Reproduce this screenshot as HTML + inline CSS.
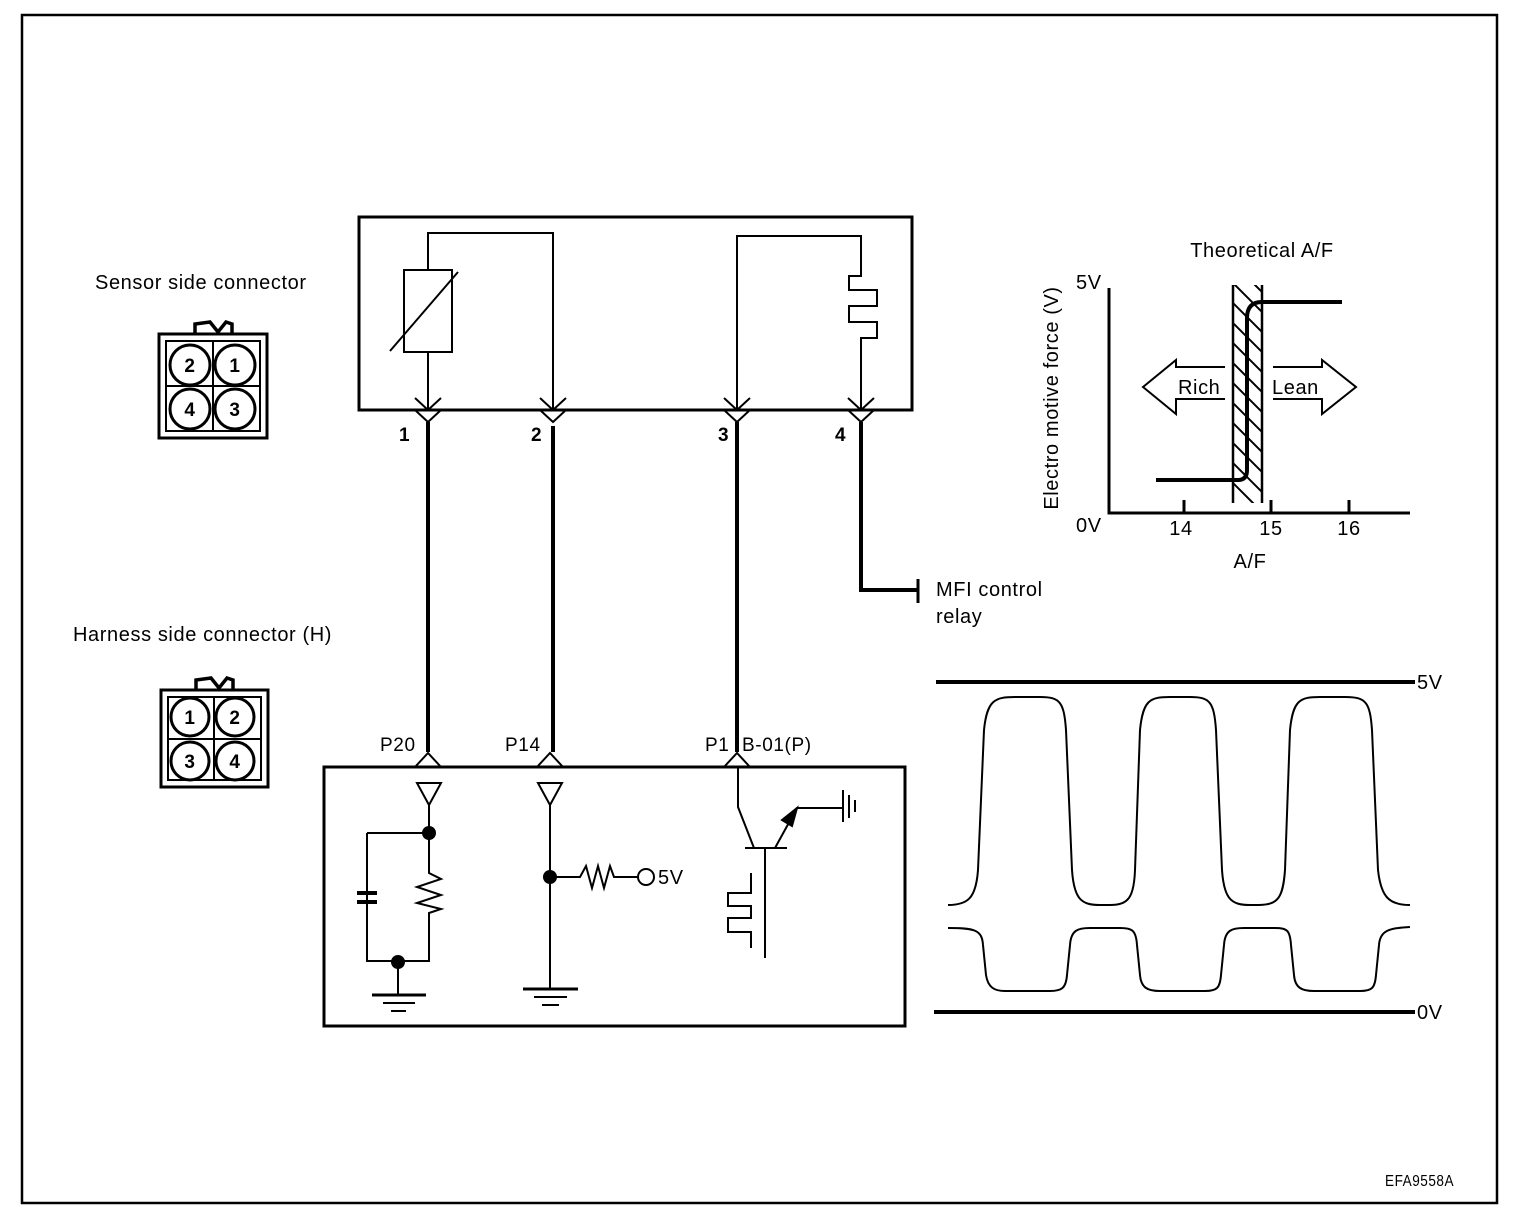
<!DOCTYPE html>
<html><head><meta charset="utf-8"><style>
html,body{margin:0;padding:0;background:#fff}
svg{display:block}
text{font-family:"Liberation Sans",Arial,sans-serif;fill:#000;letter-spacing:0.6px}
</style></head><body>
<svg width="1520" height="1228" viewBox="0 0 1520 1228" xmlns="http://www.w3.org/2000/svg">
<defs>
<clipPath id="hc"><rect x="1234" y="285" width="28" height="218"/></clipPath>
</defs>
<rect x="22" y="15" width="1475" height="1188" fill="none" stroke="#000" stroke-width="2.5"/>

<!-- labels left -->
<text x="95" y="289" font-size="20">Sensor side connector</text>
<text x="73" y="641" font-size="20">Harness side connector (H)</text>

<!-- sensor connector icon -->
<g stroke="#000" fill="none" stroke-width="3">
<path d="M195,334 V324 L210,322 L218,332 L226,322 L232,324 V334" stroke-width="3.5"/>
<rect x="159" y="334" width="108" height="104"/>
<rect x="166" y="341" width="94" height="90" stroke-width="2"/>
<line x1="213" y1="341" x2="213" y2="431" stroke-width="2"/>
<line x1="166" y1="386" x2="260" y2="386" stroke-width="2"/>
<circle cx="190" cy="365" r="20" fill="#fff"/><circle cx="235" cy="365" r="20" fill="#fff"/>
<circle cx="190" cy="409" r="20" fill="#fff"/><circle cx="235" cy="409" r="20" fill="#fff"/>
</g>
<g font-size="19" font-weight="bold" text-anchor="middle">
<text x="190" y="372">2</text><text x="235" y="372">1</text><text x="190" y="416">4</text><text x="235" y="416">3</text>
</g>
<!-- harness connector icon -->
<g stroke="#000" fill="none" stroke-width="3">
<path d="M196,690 V680 L211,678 L219,688 L227,678 L233,680 V690" stroke-width="3.5"/>
<rect x="161" y="690" width="107" height="97"/>
<rect x="168" y="697" width="93" height="83" stroke-width="2"/>
<line x1="214" y1="697" x2="214" y2="780" stroke-width="2"/>
<line x1="168" y1="739" x2="261" y2="739" stroke-width="2"/>
<circle cx="190" cy="717" r="19" fill="#fff"/><circle cx="235" cy="717" r="19" fill="#fff"/>
<circle cx="190" cy="761" r="19" fill="#fff"/><circle cx="235" cy="761" r="19" fill="#fff"/>
</g>
<g font-size="19" font-weight="bold" text-anchor="middle">
<text x="190" y="724">1</text><text x="235" y="724">2</text><text x="190" y="768">3</text><text x="235" y="768">4</text>
</g>

<!-- sensor box -->
<rect x="359" y="217" width="553" height="193" fill="none" stroke="#000" stroke-width="3"/>
<g stroke="#000" fill="none" stroke-width="2">
<path d="M428,410 V352 M428,270 V233 H553 V410"/>
<rect x="404" y="270" width="48" height="82"/>
<line x1="390" y1="351" x2="458" y2="272"/>
<path d="M737,410 V236 H861 V276 H849 V290 H877 V306 H849 V322 H877 V338 H861 V410"/>
<path d="M415,398 L428,410 L441,398 M540,398 L553,410 L566,398 M724,398 L737,410 L750,398 M848,398 L861,410 L874,398"/>
<path d="M415,410 L428,422 L441,410 M540,410 L553,422 L566,410 M724,410 L737,422 L750,410 M848,410 L861,422 L874,410"/>
</g>
<g stroke="#000" stroke-width="4" fill="none">
<path d="M428,422 V752 M553,426 V752 M737,422 V752 M861,422 V590 H918"/>
<line x1="918" y1="579" x2="918" y2="603" stroke-width="3"/>
</g>
<g font-size="19" font-weight="bold">
<text x="399" y="441">1</text><text x="531" y="441">2</text><text x="718" y="441">3</text><text x="835" y="441">4</text>
</g>
<text x="936" y="596" font-size="20">MFI control</text>
<text x="936" y="623" font-size="20">relay</text>

<!-- ECU box -->
<g font-size="19">
<text x="380" y="751">P20</text><text x="505" y="751">P14</text><text x="705" y="751">P1</text><text x="742" y="751">B-01(P)</text>
</g>
<rect x="324" y="767" width="581" height="259" fill="none" stroke="#000" stroke-width="3"/>
<g stroke="#000" fill="none" stroke-width="2">
<path d="M415,767 L428,753 L441,767 M537,767 L550,753 L563,767 M724,767 L737,753 L750,767"/>
<path d="M417,783 L441,783 L429,805 Z M538,783 L562,783 L550,805 Z"/>
<path d="M429,805 V873 L441,879 L417,887 L441,895 L417,903 L441,909 L429,913 V961 H367 V892 M367,903 V961"/>
<path d="M367,833 H429 M367,833 V892"/>
<line x1="357" y1="893" x2="377" y2="893" stroke-width="4"/>
<line x1="357" y1="902" x2="377" y2="902" stroke-width="4"/>
<path d="M398,961 V995"/>
<line x1="372" y1="995" x2="426" y2="995" stroke-width="3"/>
<line x1="383" y1="1003" x2="415" y2="1003" stroke-width="2"/>
<line x1="391" y1="1011" x2="406" y2="1011" stroke-width="2"/>
<path d="M550,805 V989 M550,877 H580 L586,866 L592,888 L598,866 L604,888 L610,866 L614,877 H638"/>
<circle cx="646" cy="877" r="8"/>
<line x1="523" y1="989" x2="578" y2="989" stroke-width="3"/>
<line x1="534" y1="997" x2="567" y2="997" stroke-width="2"/>
<line x1="542" y1="1005" x2="559" y2="1005" stroke-width="2"/>
<path d="M738,767 V807 L754,848 M745,848 H787 M765,848 V958 M775,848 L797,808 H843"/>
<path d="M843,790 V822 M849,795 V818 M855,800 V812"/>
<path d="M751,873 V893 H728 V906 H751 V918 H728 V932 H751 V948"/>
</g>
<path d="M797,808 L782,820 L792,826 Z" fill="#000" stroke="#000" stroke-width="2"/>
<circle cx="429" cy="833" r="7" fill="#000"/>
<circle cx="398" cy="962" r="7" fill="#000"/>
<circle cx="550" cy="877" r="7" fill="#000"/>
<text x="658" y="884" font-size="20">5V</text>

<!-- A/F graph -->
<text x="1262" y="257" font-size="20" text-anchor="middle">Theoretical A/F</text>
<text x="1076" y="289" font-size="20">5V</text>
<text x="1076" y="532" font-size="20">0V</text>
<text x="1181" y="535" font-size="20" text-anchor="middle">14</text>
<text x="1271" y="535" font-size="20" text-anchor="middle">15</text>
<text x="1349" y="535" font-size="20" text-anchor="middle">16</text>
<text x="1250" y="568" font-size="20" text-anchor="middle">A/F</text>
<text transform="translate(1058,398) rotate(-90)" font-size="20" text-anchor="middle">Electro motive force (V)</text>
<g stroke="#000" fill="none">
<path d="M1109,288 V513 H1410" stroke-width="3"/>
<path d="M1184,500 V513 M1271,500 V513 M1349,500 V513" stroke-width="3"/>
<g clip-path="url(#hc)" stroke-width="2">
<path d="M1200,270 l80,80 M1200,290 l80,80 M1200,310 l80,80 M1200,330 l80,80 M1200,350 l80,80 M1200,370 l80,80 M1200,390 l80,80 M1200,410 l80,80 M1200,430 l80,80 M1200,450 l80,80 M1200,470 l80,80 M1200,490 l80,80 M1200,250 l80,80 M1200,230 l80,80 M1200,210 l80,80"/>
</g>
<path d="M1233,285 V503 M1262,285 V503" stroke-width="2.5"/>
<path d="M1156,480 H1238 Q1247,480 1247,470 V318 Q1247,302 1262,302 H1342" stroke-width="4"/>
<path d="M1225,367 H1176 V360 L1143,387 L1176,414 V399 H1225" stroke-width="2"/>
<path d="M1273,367 H1322 V360 L1356,387 L1322,414 V399 H1273" stroke-width="2"/>
</g>
<text x="1178" y="394" font-size="20">Rich</text>
<text x="1272" y="394" font-size="20">Lean</text>

<!-- waveform -->
<g stroke="#000" fill="none">
<line x1="936" y1="682" x2="1415" y2="682" stroke-width="4"/>
<line x1="934" y1="1012" x2="1415" y2="1012" stroke-width="4"/>
<path stroke-width="2" d="M948,905 C968,905 976,898 978,870 L984,730 C987,700 995,697 1015,697 L1040,697 C1060,697 1064,702 1066,730 L1072,870 C1074,900 1082,905 1100,905 L1110,905 C1128,905 1134,898 1135,870 L1140,730 C1143,700 1150,697 1170,697 L1190,697 C1210,697 1214,702 1216,730 L1222,870 C1224,900 1232,905 1250,905 L1258,905 C1278,905 1283,898 1285,870 L1290,730 C1293,700 1300,697 1320,697 L1345,697 C1366,697 1370,702 1372,730 L1378,870 C1381,898 1390,905 1410,905"/>
<path stroke-width="2" d="M948,928 C975,928 982,930 983,945 L986,975 C988,988 995,991 1005,991 L1050,991 C1062,991 1066,988 1067,975 L1070,945 C1071,930 1078,928 1090,928 L1120,928 C1132,928 1136,930 1137,945 L1140,975 C1141,988 1148,991 1160,991 L1205,991 C1217,991 1220,988 1221,975 L1224,945 C1225,930 1232,928 1244,928 L1275,928 C1287,928 1290,930 1291,945 L1294,975 C1295,988 1302,991 1314,991 L1360,991 C1372,991 1375,988 1376,975 L1379,945 C1380,930 1390,928 1410,927"/>
</g>
<text x="1417" y="689" font-size="20">5V</text>
<text x="1417" y="1019" font-size="20">0V</text>

<text x="1385" y="1186" font-size="16" transform="translate(1385,0) scale(0.85,1) translate(-1385,0)">EFA9558A</text>
</svg>
</body></html>
